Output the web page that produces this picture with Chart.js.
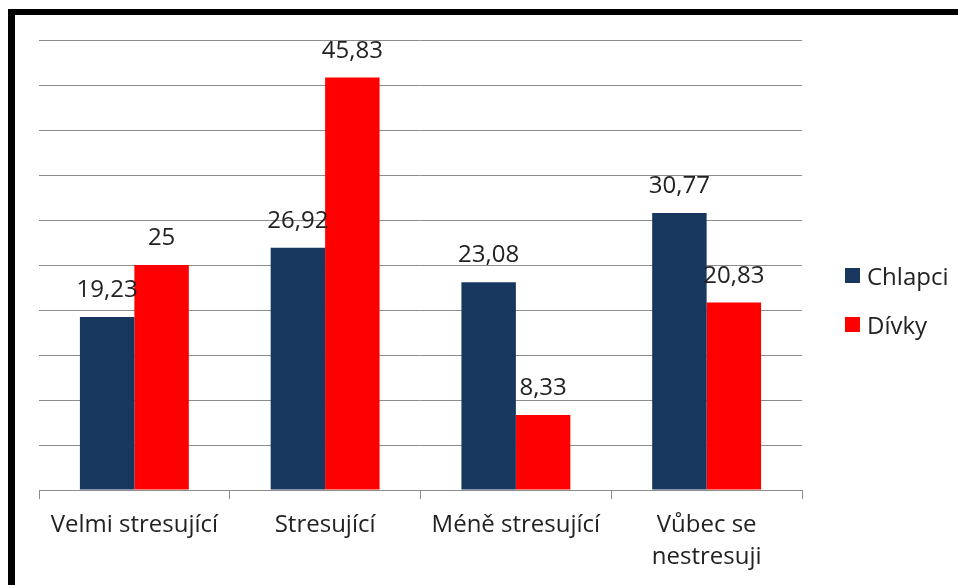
<!DOCTYPE html>
<html>
<head>
<meta charset="utf-8">
<script src="https://cdn.jsdelivr.net/npm/chart.js@4.4.1/dist/chart.umd.min.js"></script>
<style>
  html, body { margin: 0; padding: 0; background: #fff; }
  #wrap { position: relative; width: 958px; height: 585px; overflow: hidden; }
  #chart { position: absolute; left: 0; top: 0; }
  #frame {
    position: absolute; left: 8px; top: 9px; width: 2000px; height: 2000px;
    border-left: 7px solid #000; border-top: 6px solid #000;
  }
  .legend-item {
    position: absolute; left: 845px; font: 24px "Open Sans", sans-serif; color: #222;
    display: flex; align-items: center; white-space: nowrap;
  }
  .legend-item span.box { width: 15px; height: 15px; display: inline-block; margin-right: 7px; }
</style>
</head>
<body>
<div id="wrap">
  <canvas id="chart" width="958" height="585"></canvas>
  <div id="frame"></div>
  <div id="legend"></div>
</div>
<script>
// Data
const categories = ['Velmi stresující', 'Stresující', 'Méně stresující', ['Vůbec se', 'nestresuji']];
const seriesNames = ['Chlapci', 'Dívky'];
const chlapci = [19.23, 26.92, 23.08, 30.77];
const divky = [25, 45.83, 8.33, 20.83];
const yTicks = [0, 5, 10, 15, 20, 25, 30, 35, 40, 45, 50];

const colors = ['#17375E', '#FF0000'];
const textColor = '#222222';
const fontFamily = '"Open Sans", sans-serif';

// draw value labels above the bars
const valueLabels = {
    id: 'valueLabels',
    afterDatasetsDraw(chart) {
        const ctx = chart.ctx;
        ctx.save();
        ctx.font = '24px ' + fontFamily;
        ctx.fillStyle = textColor;
        ctx.textAlign = 'center';
        ctx.textBaseline = 'alphabetic';
        chart.data.datasets.forEach((ds, i) => {
            chart.getDatasetMeta(i).data.forEach((bar, j) => {
                const txt = String(ds.data[j]).replace('.', ',');
                ctx.fillText(txt, bar.x, bar.y - 20);
            });
        });
        ctx.restore();
    }
};

function buildLegend() {
    const legend = document.getElementById('legend');
    const rows = [275, 324];
    seriesNames.forEach((name, i) => {
        const item = document.createElement('div');
        item.className = 'legend-item';
        item.style.top = (rows[i] - 17) + 'px';
        item.style.height = '34px';
        item.innerHTML = '<span class="box" style="background:' + colors[i] + '"></span>' + name;
        legend.appendChild(item);
    });
}

function initChart() {
    const ctx = document.getElementById('chart').getContext('2d');
    new Chart(ctx, {
        type: 'bar',
        data: {
            labels: categories,
            datasets: [
                { label: seriesNames[0], data: chlapci, backgroundColor: colors[0] },
                { label: seriesNames[1], data: divky, backgroundColor: colors[1] }
            ]
        },
        options: {
            responsive: false,
            animation: false,
            layout: { padding: { left: 39, right: 156, top: 40, bottom: 0 } },
            datasets: {
                bar: { categoryPercentage: 0.571, barPercentage: 1.0 }
            },
            plugins: {
                legend: { display: false },
                tooltip: { enabled: false }
            },
            scales: {
                x: {
                    offset: true,
                    grid: {
                        offset: true,
                        drawOnChartArea: false,
                        drawTicks: true,
                        tickLength: 9,
                        color: '#8c8c8c'
                    },
                    border: { display: true, color: '#8c8c8c', width: 1 },
                    ticks: {
                        color: textColor,
                        padding: 11,
                        maxRotation: 0,
                        autoSkip: false,
                        font: { family: fontFamily, size: 24, lineHeight: 1.3 }
                    },
                    afterFit(scale) { scale.height = 95; }
                },
                y: {
                    min: yTicks[0],
                    max: yTicks[yTicks.length - 1],
                    afterBuildTicks(scale) { scale.ticks = yTicks.map(v => ({ value: v })); },
                    grid: { color: '#8c8c8c', drawTicks: false },
                    border: { display: false },
                    ticks: { display: false },
                    afterFit(scale) { scale.width = 0; }
                }
            }
        },
        plugins: [valueLabels]
    });
}

document.addEventListener('DOMContentLoaded', () => {
    buildLegend();
    initChart();
});
</script>
</body>
</html>
